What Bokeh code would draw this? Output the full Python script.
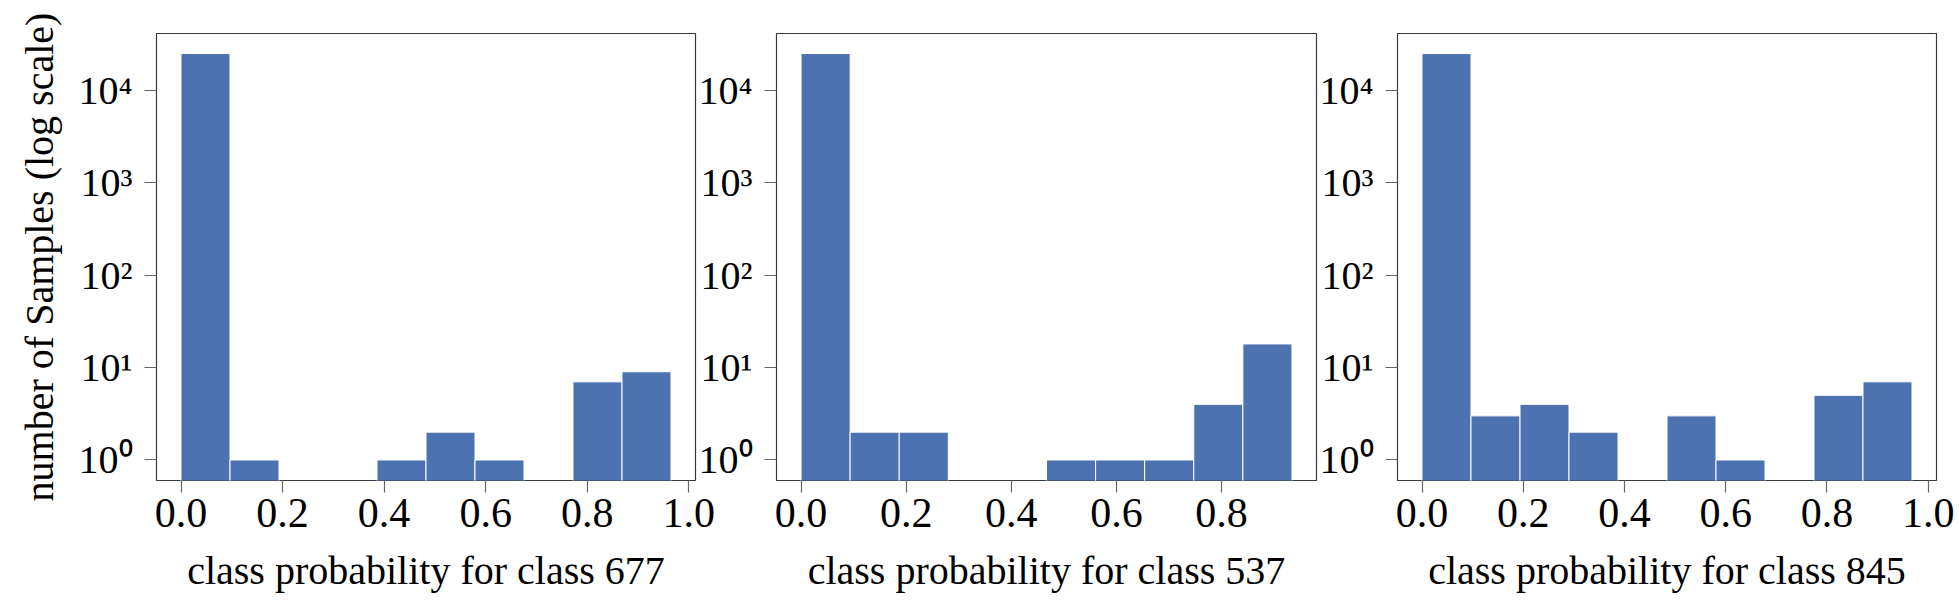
import numpy as np
from bokeh.plotting import figure
from bokeh.layouts import row
from bokeh.models import Range1d, FixedTicker, CustomJSTickFormatter, PrintfTickFormatter, ColumnDataSource
from bokeh.embed import file_html
from bokeh.resources import INLINE

# ---- data ----
class_ids = ["677", "537", "845"]
max_prob = [0.965, 0.934, 0.968]          # upper edge of the 10-bin histogram per class
counts_677 = [24900, 1, 0, 0, 1, 2, 1, 0, 7, 9]
counts_537 = [24900, 2, 2, 0, 0, 1, 1, 1, 4, 18]
counts_845 = [24900, 3, 4, 2, 0, 3, 1, 0, 5, 7]
all_counts = [counts_677, counts_537, counts_845]
x_ticks = [[0.0, 0.2, 0.4, 0.6, 0.8, 1.0],
           [0.0, 0.2, 0.4, 0.6, 0.8],
           [0.0, 0.2, 0.4, 0.6, 0.8, 1.0]]
y_ticks = [1, 10, 100, 1000, 10000]
y_label = "number of Samples (log scale)"
x_label_tpl = "class probability for class {}"

# ---- style / layout ----
FONT = "Liberation Serif"
BAR = "#4C72B0"
TOP = 33
FRAME_H = 447
BOTTOM = 120
left_borders = [156, 79, 79]
right_borders = [30, 30, 20]
frame_widths = [539, 540, 539]
margins = [(0, 0, 0, 0), (0, 0, 0, -30), (0, 0, 0, -30)]

figs = []
for i in range(3):
    counts = np.array(all_counts[i], dtype=float)
    edges = np.linspace(0.0, max_prob[i], len(counts) + 1)
    keep = counts > 0
    src = ColumnDataSource(dict(left=edges[:-1][keep], right=edges[1:][keep],
                                top=counts[keep], bottom=np.full(keep.sum(), 1e-3)))
    span = max_prob[i]
    p = figure(width=left_borders[i] + frame_widths[i] + right_borders[i],
               height=TOP + FRAME_H + BOTTOM,
               frame_width=frame_widths[i], frame_height=FRAME_H,
               x_range=Range1d(-0.05 * span, 1.05 * span),
               y_range=Range1d(0.6, 41000), y_axis_type="log",
               output_backend="svg", toolbar_location=None,
               min_border_left=left_borders[i], min_border_right=right_borders[i],
               min_border_top=TOP, min_border_bottom=BOTTOM,
               border_fill_color=None, background_fill_color="white")
    p.margin = margins[i]
    p.quad(left="left", right="right", bottom="bottom", top="top", source=src,
           fill_color=BAR, line_color="white", line_width=1)

    p.xgrid.visible = False
    p.ygrid.visible = False
    p.outline_line_color = "#3a3a3a"
    p.outline_line_width = 1.2

    xa = p.xaxis[0]
    ya = p.yaxis[0]
    xa.ticker = FixedTicker(ticks=x_ticks[i], minor_ticks=[])
    xa.formatter = PrintfTickFormatter(format="%.1f")
    ya.ticker = FixedTicker(ticks=y_ticks, minor_ticks=[])
    ya.formatter = CustomJSTickFormatter(code="""
        const sup = ["\\u2070","\\u00b9","\\u00b2","\\u00b3","\\u2074","\\u2075"];
        return "10" + sup[Math.round(Math.log10(tick))];
    """)
    for ax in (xa, ya):
        ax.axis_line_color = None
        ax.major_tick_line_color = "#666666"
        ax.major_tick_line_width = 1.2
        ax.major_tick_out = 12
        ax.major_tick_in = 0
        ax.minor_tick_line_color = None
        ax.major_label_text_font = FONT
        ax.major_label_text_color = "black"
        ax.axis_label_text_font = FONT
        ax.axis_label_text_font_size = "40px"
        ax.axis_label_text_font_style = "normal"
        ax.axis_label_text_color = "black"
    xa.major_label_text_font_size = "42px"
    ya.major_label_text_font_size = "40px"
    xa.major_label_standoff = 6
    ya.major_label_standoff = 12
    xa.axis_label = x_label_tpl.format(class_ids[i])
    xa.axis_label_standoff = 18
    if i == 0:
        ya.axis_label = y_label
        ya.axis_label_standoff = 14
    figs.append(p)

layout = row(*figs)
with open("out.html", "w", encoding="utf-8") as f:
    f.write(file_html(layout, INLINE))
